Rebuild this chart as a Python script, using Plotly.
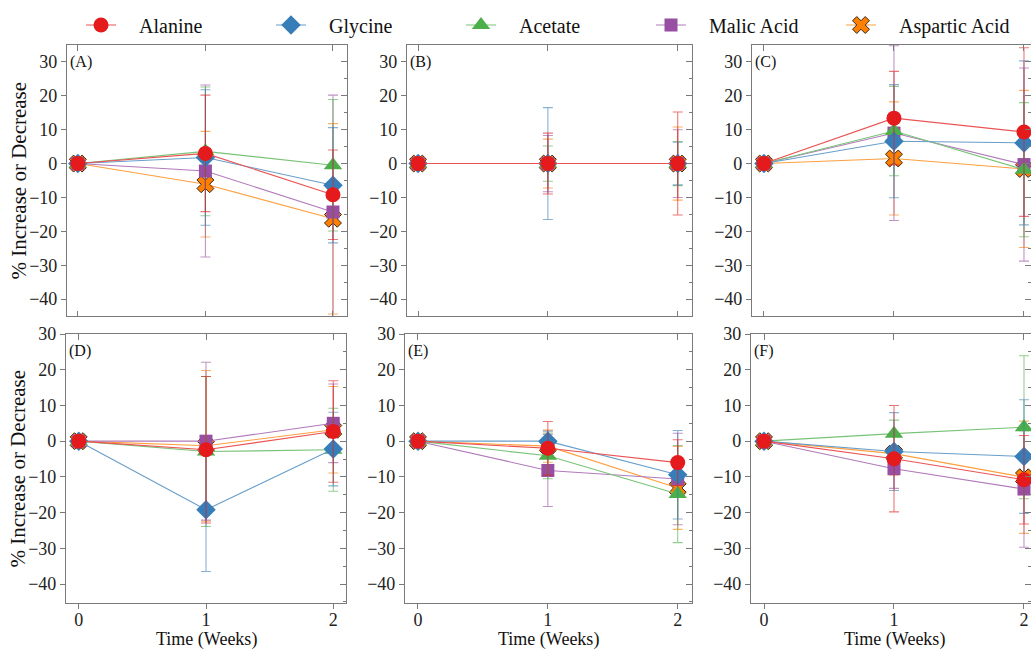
import plotly.graph_objects as go

weeks = [0, 1, 2]
compounds = ["Alanine", "Glycine", "Acetate", "Malic Acid", "Aspartic Acid"]
panel_labels = ["(A)", "(B)", "(C)", "(D)", "(E)", "(F)"]
x_tick_labels = ["0", "1", "2"]
y_tick_values = [30, 20, 10, 0, -10, -20, -30, -40]

# mean % change and error (per compound) for each panel
mean_A = {"Alanine": [0, 3.0, -9.2], "Glycine": [0, 1.8, -6.4], "Acetate": [0, 3.6, -0.5],
          "Malic Acid": [0, -2.2, -14.3], "Aspartic Acid": [0, -6.1, -16.3]}
err_A = {"Alanine": [0, 17.2, 13.2], "Glycine": [0, 20.0, 17.0], "Acetate": [0, 19.0, 19.4],
         "Malic Acid": [0, 25.4, 34.5], "Aspartic Acid": [0, 15.6, 28.1]}

mean_B = {"Alanine": [0, 0, 0], "Glycine": [0, 0, 0], "Acetate": [0, 0, 0],
          "Malic Acid": [0, 0, 0], "Aspartic Acid": [0, 0, 0]}
err_B = {"Alanine": [0, 9.0, 15.2], "Glycine": [0, 16.5, 6.3], "Acetate": [0, 5.2, 6.5],
         "Malic Acid": [0, 8.3, 10.0], "Aspartic Acid": [0, 7.2, 10.8]}

mean_C = {"Alanine": [0, 13.4, 9.3], "Glycine": [0, 6.6, 6.1], "Acetate": [0, 9.6, -1.8],
          "Malic Acid": [0, 9.0, -0.3], "Aspartic Acid": [0, 1.5, -1.6]}
err_C = {"Alanine": [0, 13.8, 24.9], "Glycine": [0, 16.7, 24.2], "Acetate": [0, 13.2, 19.8],
         "Malic Acid": [0, 25.8, 28.5], "Aspartic Acid": [0, 16.7, 23.2]}

mean_D = {"Alanine": [0, -2.4, 2.7], "Glycine": [0, -19.2, -2.2], "Acetate": [0, -2.9, -2.4],
          "Malic Acid": [0, 0.0, 5.0], "Aspartic Acid": [0, -1.3, 3.2]}
err_D = {"Alanine": [0, 20.5, 14.2], "Glycine": [0, 17.3, 10.3], "Acetate": [0, 21.0, 11.6],
         "Malic Acid": [0, 22.1, 11.0], "Aspartic Acid": [0, 21.1, 12.1]}

mean_E = {"Alanine": [0, -2.0, -6.0], "Glycine": [0, 0.0, -9.4], "Acetate": [0, -4.1, -14.8],
          "Malic Acid": [0, -8.2, -10.6], "Aspartic Acid": [0, -1.4, -13.1]}
err_E = {"Alanine": [0, 7.5, 6.4], "Glycine": [0, 2.8, 12.4], "Acetate": [0, 6.4, 13.6],
         "Malic Acid": [0, 10.1, 12.8], "Aspartic Acid": [0, 4.5, 11.6]}

mean_F = {"Alanine": [0, -4.9, -10.8], "Glycine": [0, -2.9, -4.3], "Acetate": [0, 2.1, 3.9],
          "Malic Acid": [0, -7.7, -13.4], "Aspartic Acid": [0, -3.5, -10.1]}
err_F = {"Alanine": [0, 14.9, 12.4], "Glycine": [0, 10.9, 15.9], "Acetate": [0, 3.8, 20.0],
         "Malic Acid": [0, 5.5, 16.3], "Aspartic Acid": [0, 6.0, 15.7]}

means = [mean_A, mean_B, mean_C, mean_D, mean_E, mean_F]
errs = [err_A, err_B, err_C, err_D, err_E, err_F]

# styles
colors = {"Alanine": (228, 26, 28), "Glycine": (55, 126, 184), "Acetate": (77, 175, 74),
          "Malic Acid": (152, 78, 163), "Aspartic Acid": (255, 127, 0)}
symbols = {"Alanine": "circle", "Glycine": "diamond", "Acetate": "triangle-up",
           "Malic Acid": "square", "Aspartic Acid": "x"}
sizes = {"Alanine": 15, "Glycine": 15, "Acetate": 16, "Malic Acid": 13, "Aspartic Acid": 15}


def tint(rgb, f):
    r, g, b = rgb
    return f"rgb({int(r + (255 - r) * f)},{int(g + (255 - g) * f)},{int(b + (255 - b) * f)})"


W, H = 1031, 650
FONT = "Liberation Serif, Times New Roman, serif"

# panel layout in pixels (left, right, top, bottom)
panel_px = [(67, 347, 45, 316), (407, 692, 45, 316), (752, 1031, 45, 316),
            (66, 346, 334, 603), (405, 692, 334, 603), (751, 1031, 334, 603)]
x_ranges = [[-0.085, 2.11], [-0.085, 2.11], [-0.092, 2.054],
            [-0.1, 2.1], [-0.1, 2.11], [-0.1, 2.054]]
y_top_range = [-45, 35]
y_bot_range = [-45.3, 30]

fig = go.Figure()

draw_order = list(reversed(compounds))
for p in range(6):
    xa = "x" if p == 0 else f"x{p+1}"
    ya = "y" if p == 0 else f"y{p+1}"
    for c in draw_order:
        r, g, b = colors[c]
        fig.add_trace(go.Scatter(
            x=weeks, y=means[p][c], xaxis=xa, yaxis=ya,
            mode="lines+markers", name="\u2002\u2009\u2009" + c, legendgroup=c, showlegend=(p == 0),
            line=dict(color=tint(colors[c], 0.25), width=1.1),
            marker=dict(symbol=symbols[c], size=sizes[c], color=f"rgb({r},{g},{b})",
                        line=dict(color="#3a2a1a" if c == "Aspartic Acid" else f"rgb({r},{g},{b})",
                                  width=1 if c == "Aspartic Acid" else 0)),
            error_y=dict(type="data", array=errs[p][c], visible=True,
                         color=f"rgba({r},{g},{b},0.6)", thickness=1.1, width=5),
        ))
    # dummy traces for mirror axes
    fig.add_trace(go.Scatter(x=[None], y=[None], xaxis=xa, yaxis=f"y{p+7}", showlegend=False, hoverinfo="skip"))
    fig.add_trace(go.Scatter(x=[None], y=[None], xaxis=f"x{p+7}", yaxis=ya, showlegend=False, hoverinfo="skip"))

axis_line = "#7a7a7a"
tickfont = dict(family=FONT, size=18, color="#222")

for p in range(6):
    L, R, T, B = panel_px[p]
    xdom = [L / W, R / W]
    ydom = [1 - B / H, 1 - T / H]
    yr = y_top_range if p < 3 else y_bot_range
    bottom_row = p >= 3
    xname = "xaxis" if p == 0 else f"xaxis{p+1}"
    yname = "yaxis" if p == 0 else f"yaxis{p+1}"
    xa = "x" if p == 0 else f"x{p+1}"
    ya = "y" if p == 0 else f"y{p+1}"
    fig.layout[xname] = dict(
        domain=xdom, anchor=ya, range=x_ranges[p], tickvals=weeks, ticktext=x_tick_labels,
        showticklabels=bottom_row, ticks="outside" if bottom_row else "inside", ticklen=5,
        ticklabelstandoff=-5,
        tickcolor=axis_line, showline=True, linecolor=axis_line, linewidth=1.2, mirror=True,
        showgrid=False, zeroline=False, tickfont=tickfont, automargin=False)
    fig.layout[yname] = dict(
        domain=ydom, anchor=xa, range=yr, tickvals=y_tick_values, ticks="outside", ticklen=5,
        tickcolor=axis_line, showline=True, linecolor=axis_line, linewidth=1.2, mirror=True,
        showgrid=False, zeroline=False, tickfont=tickfont, automargin=False)
    # mirror ticks: right side (inside) and top side (inside)
    fig.layout[f"yaxis{p+7}"] = dict(
        overlaying=ya, anchor=xa, side="right", range=yr, tickvals=y_tick_values,
        ticks="inside", ticklen=6, tickcolor=axis_line, showticklabels=False,
        showline=False, showgrid=False, zeroline=False, automargin=False,
        minor=dict(dtick=5, tick0=0, ticks="inside", ticklen=3, tickcolor=axis_line, showgrid=False))
    fig.layout[f"xaxis{p+7}"] = dict(
        overlaying=xa, anchor=ya, side="top", range=x_ranges[p], tickvals=weeks,
        ticks="inside", ticklen=6, tickcolor=axis_line, showticklabels=False,
        showline=False, showgrid=False, zeroline=False, automargin=False)
    # panel label
    fig.add_annotation(
        x=0.005, y=1 - 17 / (B - T), xref=f"{xa} domain", yref=f"{ya} domain",
        text=panel_labels[p], showarrow=False, xanchor="left", yanchor="middle",
        font=dict(family=FONT, size=16, color="#111"))
    if bottom_row:
        fig.add_annotation(
            x=(206 if p == 3 else 548 if p == 4 else 894) / W, y=1 - 639 / H,
            xref="paper", yref="paper",
            text="Time (Weeks)", showarrow=False, xanchor="center", yanchor="middle",
            font=dict(family=FONT, size=18, color="#111"))

# y-axis titles
for yc in [(45 + 316) / 2, (334 + 603) / 2]:
    fig.add_annotation(
        x=18 / W, y=1 - yc / H, xref="paper", yref="paper", text="% Increase or Decrease",
        textangle=-90, showarrow=False, xanchor="center", yanchor="middle",
        font=dict(family=FONT, size=21, color="#111"))

fig.update_layout(
    width=W, height=H, autosize=False,
    margin=dict(l=0, r=0, t=0, b=0, autoexpand=False),
    paper_bgcolor="white", plot_bgcolor="white",
    showlegend=True,
    legend=dict(orientation="h", x=81 / W, xanchor="left", y=1 - 25 / H, yanchor="middle",
                xref="container", yref="container",
                traceorder="reversed", itemwidth=30, entrywidth=145, entrywidthmode="pixels",
                font=dict(family=FONT, size=20, color="#111"), bgcolor="rgba(0,0,0,0)",
                itemclick=False),
    font=dict(family=FONT),
)

fig.write_html("out.html")
